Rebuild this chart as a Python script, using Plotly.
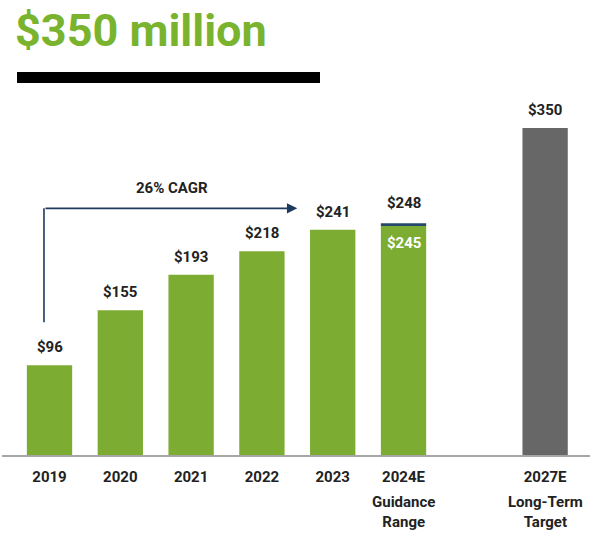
import plotly.graph_objects as go

# ---- data ----
categories = ["2019", "2020", "2021", "2022", "2023", "2024E", "2027E"]
positions = [0, 1, 2, 3, 4, 5, 7]
revenue = [96, 155, 193, 218, 241, 245, 350]
guidance_low = 245
guidance_high = 248
sub_labels = {5: "Guidance<br>Range", 7: "Long-Term<br>Target"}
cagr_text = "26% CAGR"
title_text = "$350 million"

GREEN = "#7cac31"
GRAY = "#676767"
NAVY = "#1e3a5c"
CAP = "#24476e"
TXT = "#222222"
FONT = "Roboto"

W, H = 602, 537
ML, MR, MT, MB = 2, 12, 0, 82
PW = W - ML - MR
PH = H - MT - MB
XR = [-0.671, 7.634]
YR = [0, 487]


def px2x(px):
    return (px - ML) / PW


def py2y(py):
    return 1 - (py - MT) / PH


bar_colors = [GREEN] * 6 + [GRAY]

fig = go.Figure()
fig.add_trace(go.Bar(
    x=positions, y=revenue, marker=dict(color=bar_colors, line=dict(width=0)),
    width=0.64, hoverinfo="skip",
))
# guidance range cap on 2024E
fig.add_trace(go.Bar(
    x=[positions[5]], y=[guidance_high - guidance_low], base=[guidance_low],
    marker=dict(color=CAP, line=dict(width=0)), width=0.64, hoverinfo="skip",
))

annotations = []
for i, (p, v) in enumerate(zip(positions, revenue)):
    if categories[i] == "2024E":
        annotations.append(dict(x=p, y=guidance_high, xref="x", yref="y", text=f"${guidance_high}",
                                showarrow=False, yshift=20, yanchor="middle",
                                font=dict(family=FONT, size=15, color=TXT, weight="bold")))
        annotations.append(dict(x=p, y=guidance_low, xref="x", yref="y", text=f"${guidance_low}",
                                showarrow=False, yshift=-17, yanchor="middle",
                                font=dict(family=FONT, size=15, color="white", weight="bold")))
    else:
        annotations.append(dict(x=p, y=v, xref="x", yref="y", text=f"${v}",
                                showarrow=False, yshift=18, yanchor="middle",
                                font=dict(family=FONT, size=15, color=TXT, weight="bold")))

for p, t in sub_labels.items():
    annotations.append(dict(x=p, y=py2y(512), xref="x", yref="paper", text=t, showarrow=False,
                            yanchor="middle", font=dict(family=FONT, size=15, color=TXT, weight="bold")))

# title
annotations.append(dict(x=px2x(13), y=py2y(31), xref="paper", yref="paper", text=title_text,
                        showarrow=False, xanchor="left", yanchor="middle",
                        font=dict(family=FONT, size=45, color="#7ab32e", weight="bold")))

# CAGR arrow
arrow_y = 264
arrow_x0 = -0.078
arrow_x1 = 3.50
annotations.append(dict(x=arrow_x1, y=arrow_y, ax=arrow_x0, ay=arrow_y, xref="x", yref="y",
                        axref="x", ayref="y", text="", showarrow=True, arrowhead=2,
                        arrowsize=1.3, arrowwidth=1.6, arrowcolor=NAVY))
annotations.append(dict(x=(arrow_x0 + arrow_x1) / 2 + 0.02, y=arrow_y, xref="x", yref="y",
                        text=cagr_text, showarrow=False, yshift=20, yanchor="middle",
                        font=dict(family=FONT, size=15, color=TXT, weight="bold")))

shapes = [
    dict(type="line", xref="x", yref="y", x0=arrow_x0, x1=arrow_x0, y0=142, y1=arrow_y,
         line=dict(color=NAVY, width=1.6)),
    dict(type="rect", xref="paper", yref="paper", x0=px2x(17), x1=px2x(320),
         y0=py2y(83), y1=py2y(72), fillcolor="#000000", line=dict(width=0)),
]

fig.update_layout(
    width=W, height=H,
    margin=dict(l=ML, r=MR, t=MT, b=MB),
    paper_bgcolor="white", plot_bgcolor="white",
    barmode="overlay", showlegend=False,
    annotations=annotations, shapes=shapes,
    xaxis=dict(range=XR, tickvals=positions, ticktext=categories, showgrid=False, zeroline=False,
               showline=True, linecolor="#a6a6a6", linewidth=1.5, ticks="",
               ticklabelstandoff=7,
               tickfont=dict(family=FONT, size=15, color=TXT, weight="bold")),
    yaxis=dict(range=YR, visible=False, showgrid=False, zeroline=False),
)

fig.write_html("out.html", config={"displayModeBar": False},
               post_script="document.body.style.margin='0';document.body.style.overflow='hidden';")
